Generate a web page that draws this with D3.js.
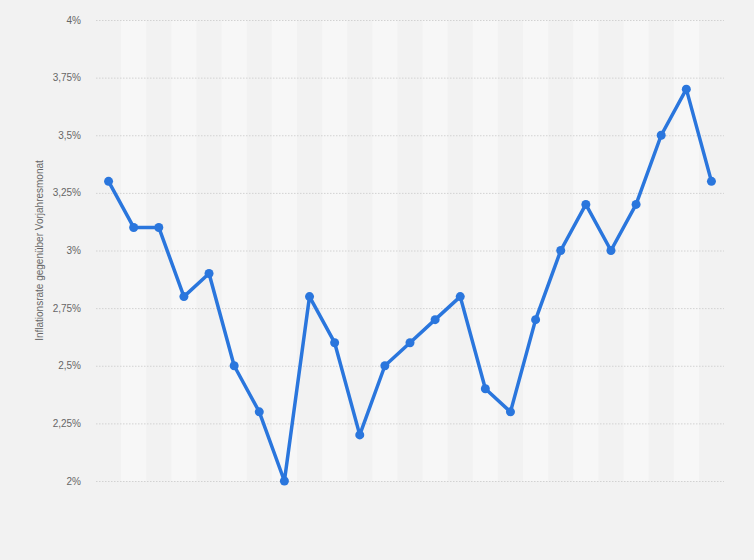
<!DOCTYPE html>
<html>
<head>
<meta charset="utf-8">
<script src="https://cdn.jsdelivr.net/npm/d3@7"></script>
<style>
  body { margin: 0; background: #f2f2f2; }
  svg { display: block; font-family: "Liberation Sans", Arial, sans-serif; }
  .grid line { stroke: #d2d2d2; stroke-dasharray: 1.5 1.5; }
  .tick-label { fill: #666; font-size: 10px; }
</style>
</head>
<body>
<svg id="chart" width="754" height="560"></svg>
<script>
// values (monthly inflation rate)
let months = d3.range(1, 26);
let rates = [3.3, 3.1, 3.1, 2.8, 2.9, 2.5, 2.3, 2.0, 2.8, 2.6, 2.2, 2.5, 2.6,
  2.7, 2.8, 2.4, 2.3, 2.7, 3.0, 3.2, 3.0, 3.2, 3.5, 3.7, 3.3];
let yTicks = [2, 2.25, 2.5, 2.75, 3, 3.25, 3.5, 3.75, 4];
let yLabel = 'Inflationsrate gegenüber Vorjahresmonat';

let plotLeft = 96, plotRight = 724, plotTop = 20, plotBottom = 481;
let svg = d3.select('#chart');

svg.append('rect').attr('width', 754).attr('height', 560).attr('fill', '#f2f2f2');

let x = d3.scaleBand().domain(months).range([plotLeft, plotRight]);
let y = d3.scaleLinear().domain([2, 4]).range([plotBottom, plotTop]);

// alternating column bands
svg.append('g').selectAll('rect')
  .data(months.filter((d, i) => i % 2 == 1))
  .join('rect')
  .attr('x', d => x(d))
  .attr('y', plotTop)
  .attr('width', x.bandwidth())
  .attr('height', plotBottom - plotTop)
  .attr('fill', '#f7f7f7');

// grid
let grid = svg.append('g').attr('class', 'grid');
grid.selectAll('line')
  .data(yTicks)
  .join('line')
  .attr('x1', plotLeft)
  .attr('x2', plotRight)
  .attr('y1', d => y(d) + 0.5)
  .attr('y2', d => y(d) + 0.5);

let fmt = d => String(d).replace('.', ',') + '%';
svg.append('g').selectAll('text')
  .data(yTicks)
  .join('text')
  .attr('class', 'tick-label')
  .attr('x', 81)
  .attr('y', d => y(d))
  .attr('dy', '0.35em')
  .attr('text-anchor', 'end')
  .text(fmt);

svg.append('text')
  .attr('class', 'tick-label')
  .attr('transform', 'translate(43,' + ((plotTop + plotBottom) / 2) + ')rotate(-90)')
  .attr('text-anchor', 'middle')
  .text(yLabel);

let pts = months.map((m, i) => ({ m: m, v: rates[i] }));
let cx = d => x(d.m) + x.bandwidth() / 2;

let lineFn = d3.line()
  .x(cx)
  .y(d => y(d.v));

svg.append('path')
  .attr('d', lineFn(pts))
  .attr('fill', 'none')
  .attr('stroke', '#2a76dd')
  .attr('stroke-width', 3.5)
  .attr('stroke-linejoin', 'round');

svg.append('g').selectAll('circle')
  .data(pts)
  .join('circle')
  .attr('cx', cx)
  .attr('cy', d => y(d.v))
  .attr('r', 4.5)
  .attr('fill', '#2a76dd');
</script>
</body>
</html>
